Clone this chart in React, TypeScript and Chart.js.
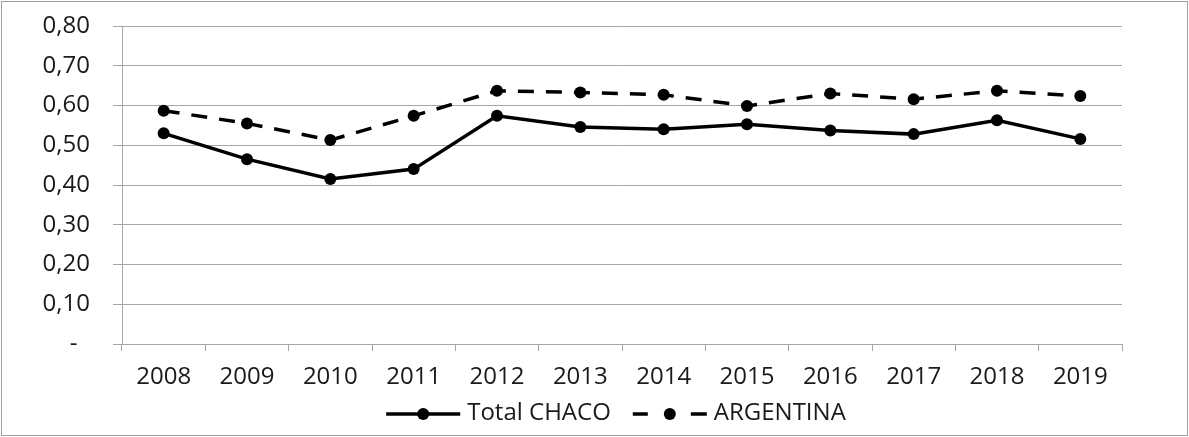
import React, { useEffect, useRef } from "react";
import { Chart, registerables } from "chart.js";

Chart.register(...registerables);

const years = ["2008", "2009", "2010", "2011", "2012", "2013", "2014", "2015", "2016", "2017", "2018", "2019"];
const chacoValues = [0.530, 0.465, 0.415, 0.440, 0.574, 0.546, 0.540, 0.553, 0.537, 0.528, 0.563, 0.516];
const argentinaValues = [0.587, 0.555, 0.513, 0.574, 0.637, 0.633, 0.627, 0.599, 0.630, 0.616, 0.637, 0.624];
const seriesNames = ["Total CHACO", "ARGENTINA"];
const yTicks = [0, 0.1, 0.2, 0.3, 0.4, 0.5, 0.6, 0.7, 0.8];

const FONT = "'Open Sans', sans-serif";
const FONT_SIZE = 24;
const TEXT = "#1a1a1a";
const GRID = "#a6a6a6";

const W = 1189;
const H = 437;

const fmt = (v: number) => (Math.abs(v) < 1e-9 ? "-  " : v.toFixed(2).replace(".", ","));

const frameAndLegend = {
  id: "frameAndLegend",
  afterDraw(chart: any) {
    const ctx = chart.ctx as CanvasRenderingContext2D;
    ctx.save();
    ctx.strokeStyle = "#a0a0a0";
    ctx.lineWidth = 1;
    ctx.setLineDash([]);
    ctx.strokeRect(1.5, 1.5, W - 3, H - 3);

    ctx.font = `${FONT_SIZE}px ${FONT}`;
    const w1 = ctx.measureText(seriesNames[0]).width;
    const w2 = ctx.measureText(seriesNames[1]).width;
    const symW = 74;
    const gapText = 7;
    const gapItems = 22;
    const total = symW + gapText + w1 + gapItems + symW + gapText + w2;
    const ca = chart.chartArea;
    const cx = (ca.left + ca.right) / 2 - 6;
    let x = cx - total / 2;
    const y = 414;

    ctx.fillStyle = "#000";
    ctx.strokeStyle = "#000";
    ctx.lineWidth = 3.5;
    ctx.lineCap = "butt";
    ctx.beginPath();
    ctx.moveTo(x, y);
    ctx.lineTo(x + symW, y);
    ctx.stroke();
    ctx.beginPath();
    ctx.arc(x + symW / 2, y, 6, 0, Math.PI * 2);
    ctx.fill();
    ctx.fillStyle = TEXT;
    ctx.textBaseline = "alphabetic";
    ctx.textAlign = "left";
    ctx.fillText(seriesNames[0], x + symW + gapText, y + 6);
    x += symW + gapText + w1 + gapItems;

    ctx.fillStyle = "#000";
    ctx.beginPath();
    ctx.moveTo(x, y);
    ctx.lineTo(x + 15, y);
    ctx.moveTo(x + symW - 16, y);
    ctx.lineTo(x + symW, y);
    ctx.stroke();
    ctx.beginPath();
    ctx.arc(x + symW / 2, y, 6, 0, Math.PI * 2);
    ctx.fill();
    ctx.fillStyle = TEXT;
    ctx.fillText(seriesNames[1], x + symW + gapText, y + 6);
    ctx.restore();
  },
};

export default function App() {
  const ref = useRef<HTMLCanvasElement | null>(null);

  useEffect(() => {
    if (!ref.current) return;
    const chart = new Chart(ref.current, {
      type: "line",
      data: {
        labels: years,
        datasets: [
          {
            label: seriesNames[0],
            data: chacoValues,
            borderColor: "#000",
            backgroundColor: "#000",
            borderWidth: 3.5,
            pointRadius: 6,
            pointBorderWidth: 0,
            pointBackgroundColor: "#000",
            tension: 0,
          },
          {
            label: seriesNames[1],
            data: argentinaValues,
            borderColor: "#000",
            backgroundColor: "#000",
            borderWidth: 3.5,
            borderDash: [16, 12],
            pointRadius: 6,
            pointBorderWidth: 0,
            pointBackgroundColor: "#000",
            tension: 0,
          },
        ],
      },
      options: {
        responsive: false,
        animation: false,
        devicePixelRatio: 1,
        layout: { padding: { left: 0, right: 67, top: 26, bottom: 43 } },
        plugins: {
          legend: { display: false },
          tooltip: { enabled: false },
        },
        scales: {
          x: {
            offset: true,
            grid: {
              offset: true,
              drawOnChartArea: false,
              drawTicks: true,
              tickLength: 7,
              color: GRID,
              lineWidth: 1,
            },
            border: { color: GRID, width: 1 },
            ticks: { color: TEXT, font: { family: FONT, size: FONT_SIZE }, padding: 12, maxRotation: 0 },
            afterFit: (s: any) => {
              s.height = 50;
              s.paddingLeft = 0;
              s.paddingRight = 0;
            },
          },
          y: {
            min: 0,
            max: 0.8,
            afterBuildTicks: (s: any) => {
              s.ticks = yTicks.map((v) => ({ value: v }));
            },
            grid: {
              color: GRID,
              lineWidth: 1,
              drawTicks: true,
              tickLength: 9,
            },
            border: { color: GRID, width: 1 },
            ticks: {
              color: TEXT,
              font: { family: FONT, size: FONT_SIZE },
              padding: 23,
              callback: (v: any) => fmt(Number(v)),
            },
            afterFit: (s: any) => {
              s.width = 122;
              s.paddingTop = 0;
              s.paddingBottom = 0;
            },
          },
        },
      },
      plugins: [frameAndLegend],
    });
    return () => chart.destroy();
  }, []);

  return (
    <div style={{ position: "fixed", left: 0, top: 0, width: W, height: H, background: "#fff" }}>
      <canvas ref={ref} width={W} height={H} style={{ display: "block" }} />
    </div>
  );
}
